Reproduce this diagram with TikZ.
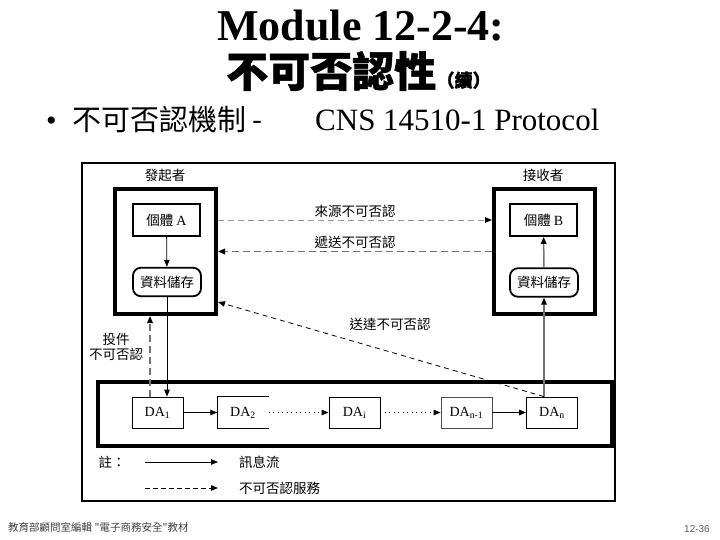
\documentclass[tikz,border=0pt]{standalone}
\usepackage{fontspec}
\setmainfont{Liberation Serif}
\newfontfamily\cjk{Noto Sans CJK TC}
\newfontfamily\cjkheavy{Noto Sans CJK TC}[BoldFeatures={FakeBold=1.2}]
\newfontfamily\sansf{Liberation Sans}
\usetikzlibrary{arrows.meta,calc}
\definecolor{lgrey}{gray}{0.6}
\definecolor{mgrey}{gray}{0.45}
\begin{document}
\begin{tikzpicture}[x=1pt,y=-1pt,
  tip/.style={-{Triangle[length=7pt,width=5.5pt,color=black]}},
  msg/.style={tip, draw=black, line width=0.8pt},
  greymsg/.style={tip, draw=mgrey, line width=1.5pt},
  nrthin/.style={tip, draw=black, line width=0.8pt, dash pattern=on 5pt off 4pt},
  nrlight/.style={tip, draw=lgrey, line width=0.8pt, dash pattern=on 6pt off 4pt},
  nrgrey/.style={tip, draw=mgrey, line width=1.6pt, dash pattern=on 7pt off 4pt},
  nrlegend/.style={tip, draw=black, line width=1pt, dash pattern=on 5pt off 3pt},
  dotmsg/.style={tip, draw=black, line width=0.9pt, dash pattern=on 0.9pt off 3.6pt},
  cjt/.style={font=\cjk\fontsize{13.5}{16}\selectfont, inner sep=1pt},
  bigbox/.style={draw, line width=4pt, minimum width=101pt, minimum height=125pt, inner sep=0pt},
  entbox/.style={draw, line width=1.8pt, minimum width=67pt, minimum height=32pt, inner sep=0pt, cjt},
  storebox/.style={draw, line width=1.8pt, rounded corners=8pt, minimum width=68pt, minimum height=28.5pt, inner sep=0pt, cjt},
  dabox/.style={draw, line width=0.8pt, minimum width=51pt, minimum height=31pt, inner sep=0pt, font=\fontsize{14}{16}\selectfont},
  dalabel/.style={minimum width=51pt, minimum height=31pt, inner sep=0pt, font=\fontsize{14}{16}\selectfont}
]
\useasboundingbox (0,0) rectangle (720,540);

% titles
\node[anchor=base, font=\bfseries\fontsize{44}{48}\selectfont, inner sep=0pt] (t1) at (361,41) {Module 12-2-4:};
\node[anchor=base west, font=\cjkheavy\bfseries\fontsize{42}{46}\selectfont, inner sep=0pt] (t2) at (226,87) {不可否認性};
\node[anchor=base west, font=\cjkheavy\bfseries\fontsize{18}{20}\selectfont, inner sep=0pt] (t3) at (t2.base east) {（續）};

% bullet line
\node[anchor=base west, font=\fontsize{30}{32}\selectfont, inner sep=0pt] (bul) at (46,131) {•};
\node[anchor=base west, font=\cjk\fontsize{29}{32}\selectfont, inner sep=0pt] (b1) at (72,131) {不可否認機制 -};
\node[anchor=base west, font=\fontsize{31}{34}\selectfont, inner sep=0pt] (b2) at (315,131) {CNS 14510-1 Protocol};

% frame
\draw[line width=1.2pt] (82,163) rectangle (615,501);

% sender / receiver
\node[cjt] (sl) at (165,175) {發起者};
\node[cjt] (rl) at (543,175) {接收者};
\node[bigbox] (sender) at (165.5,251.5) {};
\node[bigbox] (recv) at (544.5,251.5) {};
\node[entbox] (A) at (166.5,220) {個體\ {\rmfamily\fontsize{14}{16}\selectfont A}};
\node[storebox] (storeA) at (167,282) {資料儲存};
\node[entbox] (B) at (543.5,220) {個體\ {\rmfamily\fontsize{14}{16}\selectfont B}};
\node[storebox] (storeB) at (544,282.5) {資料儲存};

% bottom chain
\draw[line width=4pt] (98,382) rectangle (612,446);
\node[dabox] (DA1) at (157.5,412.5) {DA\textsubscript{1}};
\node[dalabel] (DA2) at (243,412.5) {DA\textsubscript{2}};
\draw[line width=0.8pt] (DA2.north east) -- (DA2.north west) -- (DA2.south west) -- (DA2.south east);
\node[dabox] (DAi) at (354.5,412.5) {DA\textsubscript{i}};
\node[dabox, draw=black!70] (DAn1) at (466.5,412.5) {DA\textsubscript{n-1}};
\node[dabox] (DAn) at (552,412.5) {DA\textsubscript{n}};

\draw[msg] (DA1) -- (DA2);
\draw[dotmsg] (DA2) -- (DAi);
\draw[dotmsg] (DAi) -- (DAn1);
\draw[msg, line width=1.3pt] (DAn1) -- (DAn);

% message flows
\draw[msg] (A) -- (storeA);
\draw[msg] (storeA.south) -- (storeA.south |- DA1.north);
\coordinate (dn) at (storeB.south |- DAn.north);
\draw[greymsg] (dn) -- (storeB.south);
\draw[greymsg] (storeB) -- (B);

% non-repudiation services
\coordinate (d1l) at ([xshift=-7.5pt]DA1.north);
\draw[nrgrey] (d1l) -- (d1l |- sender.south);
\node[cjt, align=center, font=\cjk\fontsize{13.5}{15.5}\selectfont] (subl) at (116,347) {投件\\不可否認};

\draw[nrlight] ([yshift=31.5pt]sender.east) -- ([yshift=31.5pt]recv.west);
\node[cjt] (lorig) at (355,211) {來源不可否認};
\draw[nrgrey] (recv.west) -- (sender.east);
\node[cjt] (ldeliv) at (355,242) {遞送不可否認};
\draw[nrthin] (dn) -- ([yshift=14pt]sender.south east);
\node[cjt] (ltrans) at (390,324) {送達不可否認};

% legend
\node[cjt] (note) at (112,462) {註：};
\coordinate (l1a) at (145,462);
\coordinate (l1b) at (218,462);
\draw[msg] (l1a) -- (l1b);
\node[cjt, anchor=west] (lg1) at (238,462) {訊息流};
\coordinate (l2a) at (145,488);
\coordinate (l2b) at (218,488);
\draw[nrlegend] (l2a) -- (l2b);
\node[cjt, anchor=west] (lg2) at (238,488) {不可否認服務};

% footer
\node[anchor=base west, font=\cjk\fontsize{10.5}{12}\selectfont, text=black!75, inner sep=0pt] (foot) at (8,531) {教育部顧問室編輯 "電子商務安全"教材};
\node[anchor=base east, font=\sansf\fontsize{10}{12}\selectfont, text=black!65, inner sep=0pt] (pg) at (710,532) {12-36};
\end{tikzpicture}
\end{document}
